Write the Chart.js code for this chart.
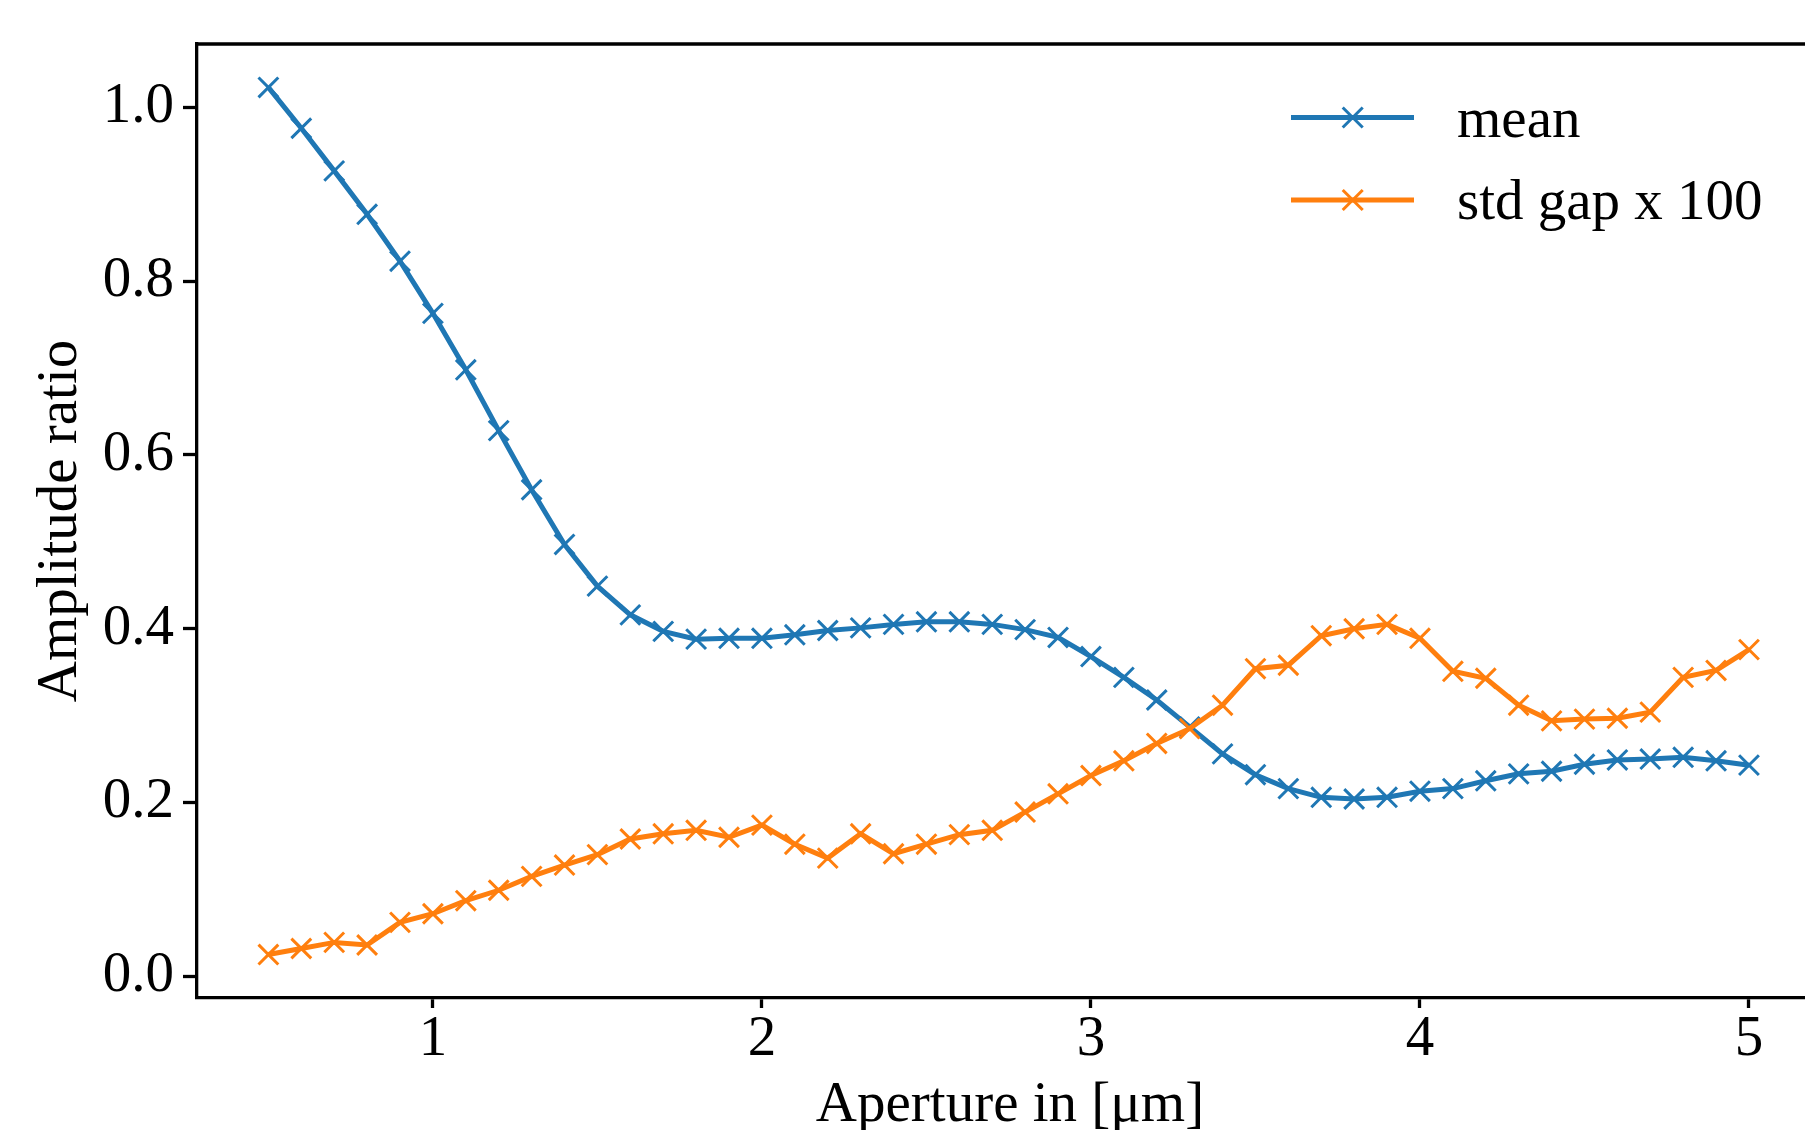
<!DOCTYPE html>
<html>
<head>
<meta charset="utf-8">
<script src="https://cdn.jsdelivr.net/npm/chart.js@4.4.0/dist/chart.umd.min.js"></script>
<style>
  html, body { margin: 0; padding: 0; background: #fff; }
  #wrap { width: 1805px; height: 1130px; overflow: hidden; }
  canvas { display: block; }
</style>
</head>
<body>
<div id="wrap"><canvas id="chart" width="1840" height="1160"></canvas></div>
<script>
// aperture in um
const aperture = [0.5, 0.6, 0.7, 0.8, 0.9, 1.0, 1.1, 1.2, 1.3, 1.4,
  1.5, 1.6, 1.7, 1.8, 1.9, 2.0, 2.1, 2.2, 2.3, 2.4,
  2.5, 2.6, 2.7, 2.8, 2.9, 3.0, 3.1, 3.2, 3.3, 3.4,
  3.5, 3.6, 3.7, 3.8, 3.9, 4.0, 4.1, 4.2, 4.3, 4.4,
  4.5, 4.6, 4.7, 4.8, 4.9, 5.0];

const meanRatio = [1.023, 0.976, 0.927, 0.877, 0.823, 0.763, 0.698, 0.628, 0.560, 0.497,
  0.449, 0.416, 0.397, 0.388, 0.389, 0.389, 0.393, 0.398, 0.401, 0.405,
  0.408, 0.408, 0.405, 0.399, 0.390, 0.368, 0.344, 0.318, 0.287, 0.256,
  0.232, 0.216, 0.206, 0.204, 0.206, 0.213, 0.216, 0.225, 0.233, 0.236,
  0.244, 0.249, 0.250, 0.252, 0.248, 0.243];

const stdGap100 = [0.025, 0.032, 0.039, 0.036, 0.062, 0.072, 0.087, 0.099, 0.115, 0.128,
  0.140, 0.158, 0.164, 0.168, 0.160, 0.174, 0.152, 0.136, 0.164, 0.141,
  0.152, 0.163, 0.168, 0.189, 0.210, 0.231, 0.248, 0.268, 0.285, 0.312,
  0.354, 0.358, 0.392, 0.400, 0.405, 0.389, 0.351, 0.343, 0.312, 0.294,
  0.296, 0.297, 0.304, 0.344, 0.352, 0.376];

const xTicks = [1, 2, 3, 4, 5];
const yTicks = [0.0, 0.2, 0.4, 0.6, 0.8, 1.0];

const BLUE = '#1f77b4', ORANGE = '#ff7f0e';
const FONT = '"Liberation Serif", "Times New Roman", serif';
const FS = 57;

// top/right frame like matplotlib
const frame = {
  id: 'frame',
  afterDraw(chart) {
    const { ctx, chartArea: a } = chart;
    ctx.save();
    ctx.strokeStyle = '#000';
    ctx.lineWidth = 3.3;
    ctx.beginPath();
    ctx.moveTo(a.left, a.top);
    ctx.lineTo(a.right, a.top);
    ctx.lineTo(a.right, a.bottom);
    ctx.stroke();
    ctx.restore();
  }
};

// legend: line with cross marker, upper right
const legendBox = {
  id: 'legendBox',
  afterDraw(chart) {
    const ctx = chart.ctx;
    const rows = [{ y: 117.5, base: 137 }, { y: 200, base: 219.3 }];
    ctx.save();
    chart.data.datasets.forEach((ds, i) => {
      const r = rows[i];
      ctx.strokeStyle = ds.borderColor;
      ctx.lineWidth = 5;
      ctx.beginPath();
      ctx.moveTo(1291, r.y);
      ctx.lineTo(1414, r.y);
      ctx.stroke();
      const cx = 1352.7, d = 10;
      ctx.lineWidth = 3;
      ctx.beginPath();
      ctx.moveTo(cx - d, r.y - d); ctx.lineTo(cx + d, r.y + d);
      ctx.moveTo(cx - d, r.y + d); ctx.lineTo(cx + d, r.y - d);
      ctx.stroke();
      ctx.fillStyle = '#000';
      ctx.font = FS + 'px ' + FONT;
      ctx.textBaseline = 'alphabetic';
      ctx.textAlign = 'left';
      ctx.fillText(ds.label, 1457, r.base);
    });
    ctx.restore();
  }
};

const tickFont = { family: FONT, size: FS, lineHeight: 1 };

new Chart(document.getElementById('chart'), {
  type: 'line',
  data: {
    datasets: [
      {
        label: 'mean',
        data: aperture.map((x, i) => ({ x, y: meanRatio[i] })),
        borderColor: BLUE, backgroundColor: BLUE, borderWidth: 5,
        pointStyle: 'crossRot', pointRadius: 14, pointBorderWidth: 3,
        pointBorderColor: BLUE, tension: 0, order: 1
      },
      {
        label: 'std gap x 100',
        data: aperture.map((x, i) => ({ x, y: stdGap100[i] })),
        borderColor: ORANGE, backgroundColor: ORANGE, borderWidth: 5,
        pointStyle: 'crossRot', pointRadius: 14, pointBorderWidth: 3,
        pointBorderColor: ORANGE, tension: 0, order: 0
      }
    ]
  },
  options: {
    responsive: false,
    devicePixelRatio: 1,
    animation: false,
    layout: { padding: { left: 0, top: 44, right: 14.6, bottom: 0 } },
    plugins: { legend: { display: false }, tooltip: { enabled: false } },
    scales: {
      x: {
        type: 'linear', min: 0.283, max: 5.225,
        afterBuildTicks: s => { s.ticks = xTicks.map(v => ({ value: v })); },
        afterFit: s => { s.height = 162; },
        ticks: { font: tickFont, color: '#000', padding: 4, maxRotation: 0, callback: v => String(v) },
        grid: { display: true, drawOnChartArea: false, drawTicks: true, tickLength: 10, tickWidth: 3.3, tickColor: '#000' },
        border: { display: true, color: '#000', width: 3.3 },
        title: { display: true, text: 'Aperture in [μm]', color: '#000', font: tickFont, padding: { top: 0, bottom: 25.5 } }
      },
      y: {
        type: 'linear', min: -0.025, max: 1.073,
        afterBuildTicks: s => { s.ticks = yTicks.map(v => ({ value: v })); },
        afterFit: s => { s.width = 197; },
        ticks: { font: tickFont, color: '#000', padding: 9, callback: v => v.toFixed(1) },
        grid: { display: true, drawOnChartArea: false, drawTicks: true, tickLength: 14, tickWidth: 3.3, tickColor: '#000' },
        border: { display: true, color: '#000', width: 3.3 },
        title: { display: true, text: 'Amplitude ratio', color: '#000', font: tickFont, padding: { top: 32.5, bottom: 0 } }
      }
    }
  },
  plugins: [frame, legendBox]
});
</script>
</body>
</html>
